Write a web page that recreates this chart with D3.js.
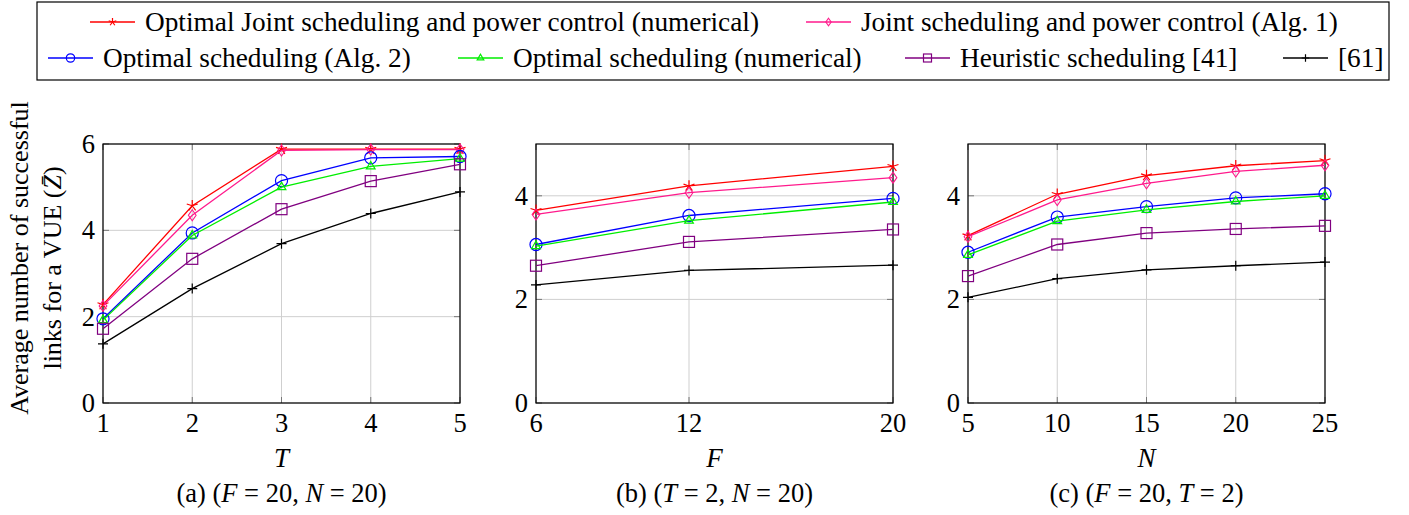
<!DOCTYPE html>
<html>
<head>
<meta charset="utf-8">
<script src="https://cdn.jsdelivr.net/npm/d3@7"></script>
<style>
  body { margin: 0; background: #fff; }
</style>
</head>
<body>
<svg id="canvas"></svg>
<script>
// series (same order in every panel)
var seriesNames = [
    'Optimal Joint scheduling and power control (numerical)',
    'Joint scheduling and power control (Alg. 1)',
    'Optimal scheduling (Alg. 2)',
    'Optimal scheduling (numerical)',
    'Heuristic scheduling [41]',
    '[61]'
];
var seriesColors = ['#ff0000', '#ff1a8c', '#0000ff', '#00ee00', '#800080', '#000000'];
var seriesMarks = ['star', 'diamond', 'circle', 'triangle', 'square', 'plus'];

// panel (a): x = T
var tValues = [1, 2, 3, 4, 5];
var panelA = [
    [2.28, 4.57, 5.88, 5.88, 5.88],
    [2.25, 4.35, 5.85, 5.87, 5.87],
    [1.95, 3.94, 5.15, 5.68, 5.71],
    [1.92, 3.88, 5.00, 5.48, 5.66],
    [1.72, 3.34, 4.49, 5.14, 5.53],
    [1.37, 2.65, 3.69, 4.39, 4.89]
];

// panel (b): x = F
var fValues = [6, 12, 20];
var panelB = [
    [3.72, 4.19, 4.57],
    [3.64, 4.06, 4.35],
    [3.06, 3.62, 3.95],
    [3.03, 3.52, 3.88],
    [2.65, 3.11, 3.35],
    [2.28, 2.56, 2.66]
];

// panel (c): x = N
var nValues = [5, 10, 15, 20, 25];
var panelC = [
    [3.23, 4.03, 4.39, 4.58, 4.68],
    [3.21, 3.92, 4.24, 4.47, 4.59],
    [2.91, 3.59, 3.79, 3.96, 4.04],
    [2.86, 3.51, 3.73, 3.89, 4.00],
    [2.45, 3.06, 3.28, 3.36, 3.42],
    [2.04, 2.40, 2.57, 2.65, 2.72]
];

var xTicksA = [1, 2, 3, 4, 5], yTicksA = [0, 2, 4, 6];
var xTicksB = [6, 12, 20], yTicksB = [0, 2, 4];
var xTicksC = [5, 10, 15, 20, 25], yTicksC = [0, 2, 4];

var chartWidth = 1409, chartHeight = 515;
var plotTop = 144, plotBottom = 403;
var sp = '\u2005'; // math spacing around "="

var svg = d3.select('#canvas')
    .attr('width', chartWidth)
    .attr('height', chartHeight);

// every text goes through here so the serif font sticks
function addText(parent, size) {
    return parent.append('text')
        .style('font-family', '"Liberation Serif"')
        .attr('font-size', size)
        .attr('fill', '#000');
}

// draw a marker of given type at (0,0)
function drawMark(g, type, color, s) {
    if (type === 'star') {
        var p = '';
        for (var k = 0; k < 5; k++) {
            var a = (90 + k * 72) * Math.PI / 180;
            p += 'M0,0L' + (Math.cos(a) * s * 1.05).toFixed(2) + ',' + (-Math.sin(a) * s * 1.05).toFixed(2);
        }
        g.append('path').attr('d', p).attr('stroke', color).attr('fill', 'none').attr('stroke-width', 1.2);
    } else if (type === 'diamond') {
        g.append('path').attr('d', 'M0,' + (-s) + 'L' + (s * 0.7) + ',0L0,' + s + 'L' + (-s * 0.7) + ',0Z')
            .attr('stroke', color).attr('fill', 'none').attr('stroke-width', 1.1);
    } else if (type === 'circle') {
        g.append('circle').attr('r', s * 1.1).attr('stroke', color).attr('fill', 'none').attr('stroke-width', 1.2);
    } else if (type === 'triangle') {
        g.append('path').attr('d', 'M0,' + (-s) + 'L' + (s * 0.87) + ',' + (s * 0.5) + 'L' + (-s * 0.87) + ',' + (s * 0.5) + 'Z')
            .attr('stroke', color).attr('fill', 'none').attr('stroke-width', 1.2);
    } else if (type === 'square') {
        g.append('rect').attr('x', -s).attr('y', -s).attr('width', 2 * s).attr('height', 2 * s)
            .attr('stroke', color).attr('fill', 'none').attr('stroke-width', 1.2);
    } else if (type === 'plus') {
        g.append('path').attr('d', 'M' + (-s) + ',0H' + s + 'M0,' + (-s) + 'V' + s)
            .attr('stroke', color).attr('fill', 'none').attr('stroke-width', 1.2);
    }
}

function drawPanel(left, right, xs, data, xDom, yDom, xTicks, yTicks, xName, caption) {
    var xScale = d3.scaleLinear().domain(xDom).range([left, right]);
    var yScale = d3.scaleLinear().domain(yDom).range([plotBottom, plotTop]);
    var g = svg.append('g');

    // grid
    g.selectAll('.gx').data(xTicks).enter().append('line')
        .attr('x1', function (d) { return xScale(d); }).attr('x2', function (d) { return xScale(d); })
        .attr('y1', plotTop).attr('y2', plotBottom)
        .attr('stroke', '#cfcfcf').attr('stroke-width', 1);
    g.selectAll('.gy').data(yTicks).enter().append('line')
        .attr('y1', function (d) { return yScale(d); }).attr('y2', function (d) { return yScale(d); })
        .attr('x1', left).attr('x2', right)
        .attr('stroke', '#cfcfcf').attr('stroke-width', 1);

    // inner ticks on all four sides
    xTicks.forEach(function (d) {
        g.append('line').attr('x1', xScale(d)).attr('x2', xScale(d)).attr('y1', plotBottom).attr('y2', plotBottom - 6).attr('stroke', '#777');
        g.append('line').attr('x1', xScale(d)).attr('x2', xScale(d)).attr('y1', plotTop).attr('y2', plotTop + 6).attr('stroke', '#777');
    });
    yTicks.forEach(function (d) {
        g.append('line').attr('y1', yScale(d)).attr('y2', yScale(d)).attr('x1', left).attr('x2', left + 6).attr('stroke', '#777');
        g.append('line').attr('y1', yScale(d)).attr('y2', yScale(d)).attr('x1', right).attr('x2', right - 6).attr('stroke', '#777');
    });

    // box
    g.append('rect').attr('x', left).attr('y', plotTop).attr('width', right - left).attr('height', plotBottom - plotTop)
        .attr('fill', 'none').attr('stroke', '#000').attr('stroke-width', 1.2);

    // tick labels
    xTicks.forEach(function (d) {
        addText(g, 26.5).attr('x', xScale(d)).attr('y', 432).attr('text-anchor', 'middle').text(d);
    });
    yTicks.forEach(function (d) {
        addText(g, 26.5).attr('x', left - 8).attr('y', yScale(d) + 9).attr('text-anchor', 'end').text(d);
    });

    // series lines and markers
    var line = d3.line()
        .x(function (d) { return xScale(d[0]); })
        .y(function (d) { return yScale(d[1]); });
    data.forEach(function (vals, si) {
        var pts = xs.map(function (x, i) { return [x, vals[i]]; });
        g.append('path').datum(pts).attr('d', line)
            .attr('fill', 'none').attr('stroke', seriesColors[si]).attr('stroke-width', 1.3);
        pts.forEach(function (p) {
            var m = g.append('g').attr('transform', 'translate(' + xScale(p[0]) + ',' + yScale(p[1]) + ')');
            var size = { star: 5.5, diamond: 5.5, circle: 5.5, triangle: 5, square: 5.5, plus: 5 }[seriesMarks[si]];
            drawMark(m, seriesMarks[si], seriesColors[si], size);
        });
    });

    // axis name
    var cx = (left + right) / 2;
    addText(g, 27).attr('x', cx).attr('y', 467).attr('text-anchor', 'middle')
        .attr('font-style', 'italic').text(xName);

    // caption
    var cap = addText(g, 26.5).attr('x', cx).attr('y', 502).attr('text-anchor', 'middle');
    caption.forEach(function (c) {
        cap.append('tspan').attr('font-style', c[1] ? 'italic' : 'normal').text(c[0]);
    });
}

drawPanel(103, 460, tValues, panelA, [1, 5], [0, 6], xTicksA, yTicksA, 'T',
    [['(a) (', 0], ['F', 1], [sp + '=' + sp + '20, ', 0], ['N', 1], [sp + '=' + sp + '20)', 0]]);
drawPanel(536, 893, fValues, panelB, [6, 20], [0, 5], xTicksB, yTicksB, 'F',
    [['(b) (', 0], ['T', 1], [sp + '=' + sp + '2, ', 0], ['N', 1], [sp + '=' + sp + '20)', 0]]);
drawPanel(968, 1325, nValues, panelC, [5, 25], [0, 5], xTicksC, yTicksC, 'N',
    [['(c) (', 0], ['F', 1], [sp + '=' + sp + '20, ', 0], ['T', 1], [sp + '=' + sp + '2)', 0]]);

// y axis label (two rotated lines)
addText(svg, 26).attr('transform', 'translate(28,258) rotate(-90)')
    .attr('text-anchor', 'middle').text('Average number of successful');
var yl2 = addText(svg, 26).attr('transform', 'translate(61,268) rotate(-90)')
    .attr('text-anchor', 'middle');
yl2.append('tspan').text('links for a VUE (');
yl2.append('tspan').attr('font-style', 'italic').text('Z\u0304');
yl2.append('tspan').text(')');

// legend
svg.append('rect').attr('x', 37).attr('y', 2).attr('width', 1352).attr('height', 78)
    .attr('fill', '#fff').attr('stroke', '#000').attr('stroke-width', 1.2);
var legendX = [90, 806, 48, 458, 905, 1283];
var legendY = [22, 22, 58, 58, 58, 58];
seriesNames.forEach(function (name, i) {
    var lg = svg.append('g').attr('transform', 'translate(' + legendX[i] + ',' + legendY[i] + ')');
    lg.append('line').attr('x1', 0).attr('x2', 45).attr('y1', 0).attr('y2', 0)
        .attr('stroke', seriesColors[i]).attr('stroke-width', 1.3);
    var m = lg.append('g').attr('transform', 'translate(22.5,0)');
    drawMark(m, seriesMarks[i], seriesColors[i], seriesMarks[i] === 'square' ? 4 : 3.8);
    addText(lg, 27.3).attr('x', 55).attr('y', 9).text(name);
});
</script>
</body>
</html>
